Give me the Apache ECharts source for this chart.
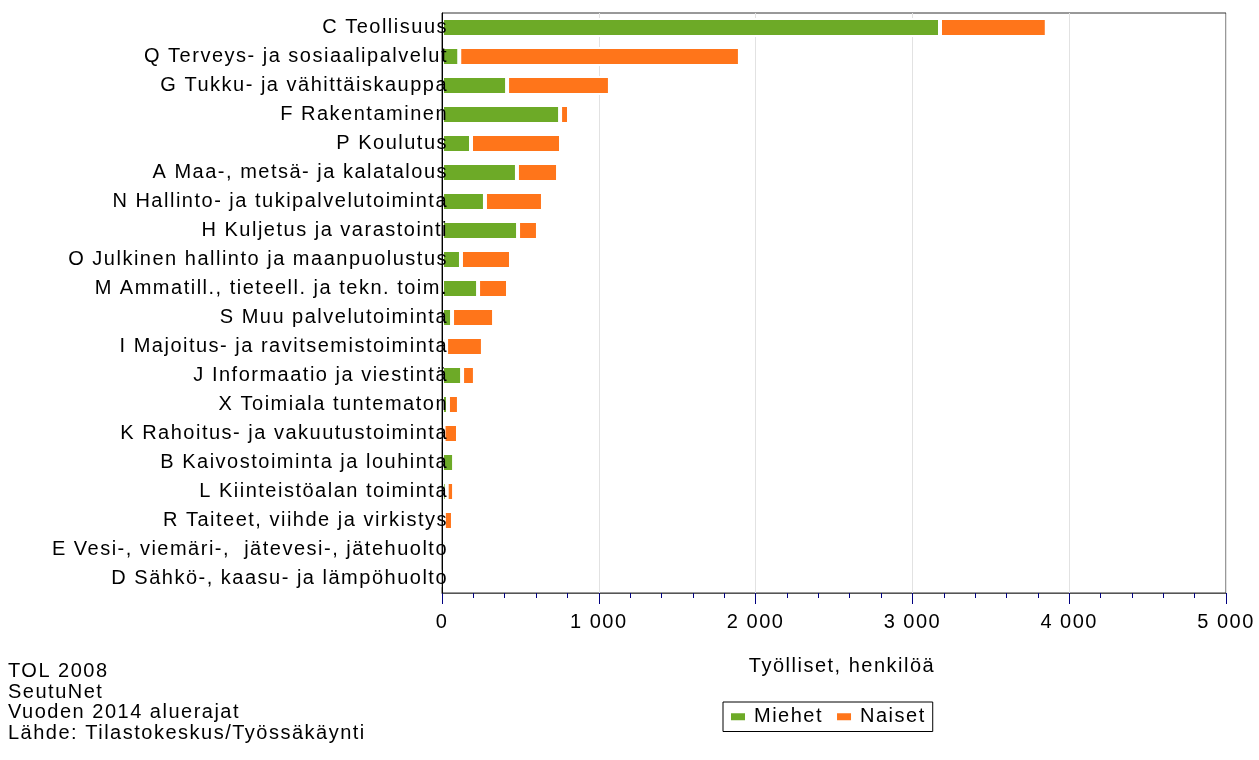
<!DOCTYPE html>
<html>
<head>
<meta charset="utf-8">
<script src="https://cdn.jsdelivr.net/npm/echarts@6/dist/echarts.min.js"></script>
<style>
html,body{margin:0;padding:0;background:#fff;}
#chart{width:1259px;height:760px;}
</style>
</head>
<body>
<div id="chart"></div>
<script>
// The reference text is drawn with wide character spacing; emulate it on canvas.
(function () {
  const proto = CanvasRenderingContext2D.prototype;
  const desc = Object.getOwnPropertyDescriptor(proto, 'font');
  if (desc && desc.set && ('letterSpacing' in proto)) {
    Object.defineProperty(proto, 'font', {
      configurable: true,
      get() { return desc.get.call(this); },
      set(v) { desc.set.call(this, v); this.letterSpacing = '1.5px'; }
    });
  }
})();

const categories = [
  "C Teollisuus",
  "Q Terveys- ja sosiaalipalvelut",
  "G Tukku- ja vähittäiskauppa",
  "F Rakentaminen",
  "P Koulutus",
  "A Maa-, metsä- ja kalatalous",
  "N Hallinto- ja tukipalvelutoiminta",
  "H Kuljetus ja varastointi",
  "O Julkinen hallinto ja maanpuolustus",
  "M Ammatill., tieteell. ja tekn. toim.",
  "S Muu palvelutoiminta",
  "I Majoitus- ja ravitsemistoiminta",
  "J Informaatio ja viestintä",
  "X Toimiala tuntematon",
  "K Rahoitus- ja vakuutustoiminta",
  "B Kaivostoiminta ja louhinta",
  "L Kiinteistöalan toiminta",
  "R Taiteet, viihde ja virkistys",
  "E Vesi-, viemäri-,  jätevesi-, jätehuolto",
  "D Sähkö-, kaasu- ja lämpöhuolto"
];
const miehet = [3176, 110, 415, 753, 185, 478, 274, 485, 121, 230, 64, 26, 128, 38, 10, 77, 30, 12, 26, 8];
const naiset = [681, 1790, 656, 57, 574, 262, 370, 127, 319, 191, 268, 235, 82, 70, 92, 3, 47, 58, 0, 0];
const seriesNames = ["Miehet", "Naiset"];
const axisTitle = "Työlliset, henkilöä";
const footnote = ["TOL 2008", "SeutuNet", "Vuoden 2014 aluerajat", "Lähde: Tilastokeskus/Työssäkäynti"];

const FONT = '"Liberation Sans", Arial, sans-serif';
const chart = echarts.init(document.getElementById('chart'));
chart.setOption({
  animation: false,
  backgroundColor: '#ffffff',
  grid: {
    left: 442, right: 33, top: 13, bottom: 167,
    show: true, borderColor: '#333333', borderWidth: 1,
    containLabel: false, outerBoundsMode: 'none'
  },
  legend: {
    data: seriesNames,
    left: 723, top: 702,
    itemWidth: 16, itemHeight: 9, itemGap: 12,
    icon: 'rect',
    padding: [4, 7, 4, 6],
    borderColor: '#000000', borderWidth: 1,
    textStyle: { fontFamily: FONT, fontSize: 20, color: '#000', padding: [0, 0, 0, 3] }
  },
  xAxis: {
    type: 'value',
    min: 0, max: 5000, interval: 1000,
    name: axisTitle,
    nameLocation: 'middle',
    nameGap: 63,
    nameTextStyle: { fontFamily: FONT, fontSize: 20, color: '#000', padding: [0, 0, 0, 16] },
    axisLine: { show: true, lineStyle: { color: '#555555', width: 1 } },
    axisTick: { show: true, length: 11, lineStyle: { color: '#000080', width: 1 } },
    minorTick: { show: true, splitNumber: 5, length: 5, lineStyle: { color: '#000080', width: 1 } },
    splitLine: { show: true, lineStyle: { color: '#e2e2e2', width: 1 } },
    axisLabel: {
      margin: 19,
      fontFamily: FONT, fontSize: 20, color: '#000',
      formatter: v => String(v).replace(/\B(?=(\d{3})+(?!\d))/g, ' ')
    }
  },
  yAxis: {
    type: 'category',
    data: categories,
    inverse: true,
    z: 10,
    axisLine: { show: true, lineStyle: { color: '#000000', width: 1 } },
    axisTick: { show: false },
    splitLine: { show: false },
    axisLabel: {
      margin: -6,
      fontFamily: FONT, fontSize: 20, color: '#000'
    }
  },
  series: [
    {
      name: seriesNames[0], type: 'bar', stack: 'total', data: miehet,
      barWidth: 19,
      itemStyle: { color: '#6daa27', borderColor: '#ffffff', borderWidth: 2 }
    },
    {
      name: seriesNames[1], type: 'bar', stack: 'total', data: naiset,
      barWidth: 19,
      itemStyle: { color: '#ff751a', borderColor: '#ffffff', borderWidth: 2 }
    }
  ],
  graphic: [{
    type: 'text',
    left: 8, top: 661,
    style: {
      text: footnote.join('\n'),
      font: '20px ' + FONT,
      lineHeight: 20.5,
      fill: '#000'
    }
  }]
});
</script>
</body>
</html>
